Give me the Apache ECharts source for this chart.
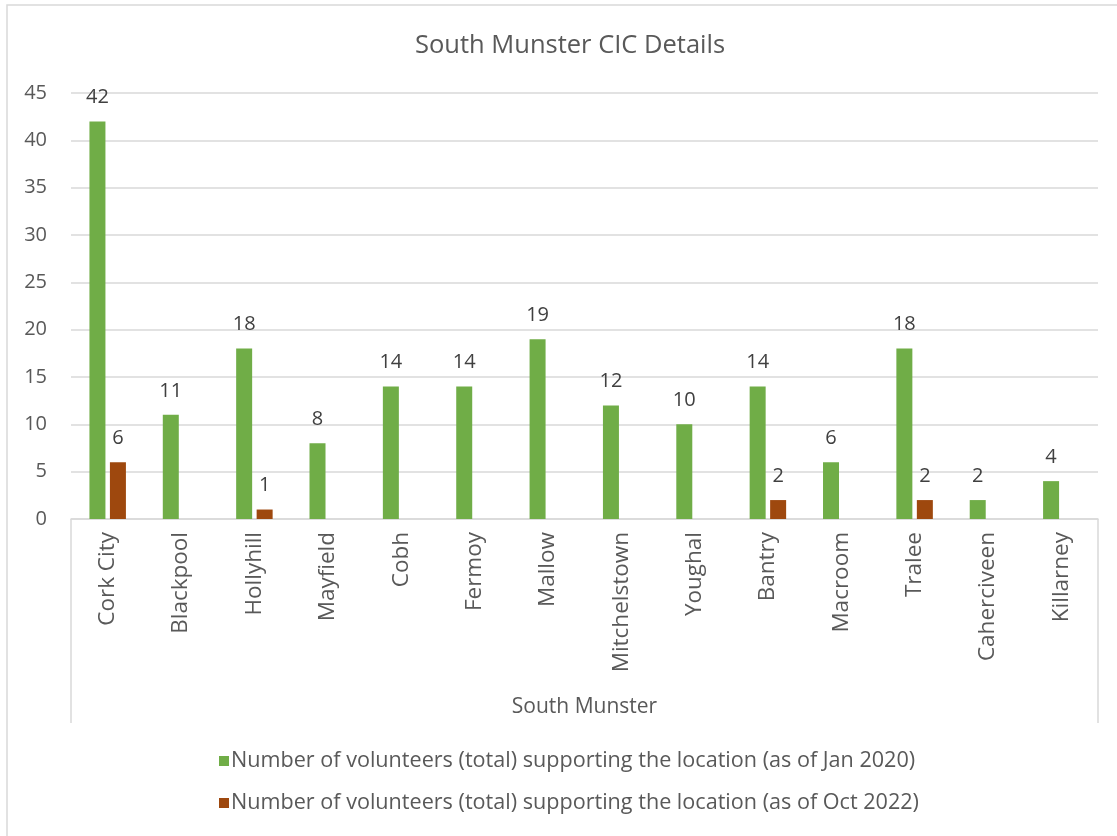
<!DOCTYPE html>
<html>
<head>
<meta charset="utf-8">
<script src="https://cdn.jsdelivr.net/npm/echarts@6/dist/echarts.min.js"></script>
<style>
  html, body { margin: 0; padding: 0; background: #fff; }
  #chart { width: 1117px; height: 836px; }
</style>
</head>
<body>
<div id="chart"></div>
<script>
const categories = ['Cork City', 'Blackpool', 'Hollyhill', 'Mayfield', 'Cobh', 'Fermoy', 'Mallow',
  'Mitchelstown', 'Youghal', 'Bantry', 'Macroom', 'Tralee', 'Caherciveen', 'Killarney'];
const volunteersJan2020 = [42, 11, 18, 8, 14, 14, 19, 12, 10, 14, 6, 18, 2, 4];
const volunteersOct2022 = [6, null, 1, null, null, null, null, null, null, 2, null, 2, null, null];
const seriesNames = [
  'Number of volunteers (total) supporting the location (as of Jan 2020)',
  'Number of volunteers (total) supporting the location (as of Oct 2022)'
];
const yTicks = { min: 0, max: 45, interval: 5 };

const FONT = '"Open Sans", sans-serif';
const TEXT = '#595959';
const LINE = '#d9d9d9';

const gridLeft = 71, gridRight = 1098, gridTop = 93, gridBottom = 519, boxBottom = 723;

const chart = echarts.init(document.getElementById('chart'));

const labelStyle = { show: true, position: 'top', distance: 14, color: '#404040', fontFamily: FONT, fontSize: 20 };

chart.setOption({
  backgroundColor: '#fff',
  animation: false,
  textStyle: { fontFamily: FONT },
  title: {
    text: 'South Munster CIC Details',
    left: 410, top: 28,
    textStyle: { color: TEXT, fontFamily: FONT, fontSize: 25.5, fontWeight: 'normal' }
  },
  grid: { left: gridLeft, right: 1117 - gridRight, top: gridTop, bottom: 836 - gridBottom, containLabel: false },
  legend: {
    orient: 'vertical', left: 214, top: 745, itemGap: 20,
    itemWidth: 10, itemHeight: 10, icon: 'rect',
    textStyle: { color: TEXT, fontFamily: FONT, fontSize: 21.6, padding: [0, 0, 0, -3] },
    data: seriesNames
  },
  xAxis: {
    type: 'category', data: categories,
    name: 'South Munster', nameLocation: 'middle', nameGap: 178,
    nameTextStyle: { color: TEXT, fontFamily: FONT, fontSize: 21 },
    axisLine: { lineStyle: { color: LINE, width: 1.5 } },
    axisTick: { show: false },
    axisLabel: { rotate: 90, margin: 13, color: TEXT, fontFamily: FONT, fontSize: 22.5, interval: 0 }
  },
  yAxis: {
    type: 'value', min: yTicks.min, max: yTicks.max, interval: yTicks.interval,
    axisLine: { show: false }, axisTick: { show: false },
    axisLabel: { margin: 24, color: TEXT, fontFamily: FONT, fontSize: 20 },
    splitLine: { lineStyle: { color: LINE, width: 1.5 } }
  },
  graphic: [
    { type: 'line', shape: { x1: gridLeft, y1: gridBottom, x2: gridLeft, y2: boxBottom }, style: { stroke: LINE, lineWidth: 1.5 } },
    { type: 'line', shape: { x1: gridRight, y1: gridBottom, x2: gridRight, y2: boxBottom }, style: { stroke: LINE, lineWidth: 1.5 } },
    { type: 'rect', shape: { x: 7, y: 5, width: 1200, height: 900 }, style: { fill: 'none', stroke: LINE, lineWidth: 1.5 }, z: -1 }
  ],
  series: [
    { name: seriesNames[0], type: 'bar', data: volunteersJan2020, barWidth: 16, barGap: '28%',
      itemStyle: { color: '#70AD47' }, label: labelStyle },
    { name: seriesNames[1], type: 'bar', data: volunteersOct2022, barWidth: 16,
      itemStyle: { color: '#9E480E' }, label: labelStyle }
  ]
});
</script>
</body>
</html>
